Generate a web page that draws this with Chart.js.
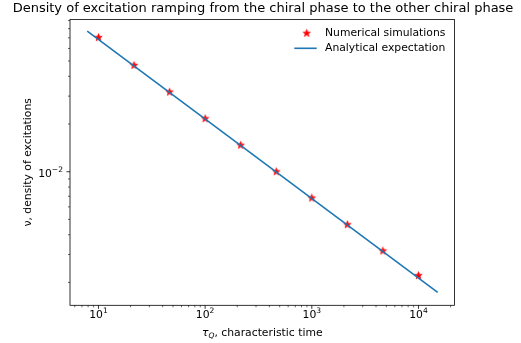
<!DOCTYPE html>
<html>
<head>
<meta charset="utf-8">
<script src="https://cdn.jsdelivr.net/npm/chart.js@4.4.0/dist/chart.umd.min.js"></script>
<style>
    body { margin: 0; background: #fff; }
    canvas { display: block; }
</style>
</head>
<body>
<canvas id="densityChart" width="521" height="343"></canvas>
<script>
// quench times used in the simulations and the measured density
const simTau = [10, 21.54, 46.42, 100, 215.4, 464.2, 1000, 2154, 4642, 10000];
const simDensity = [0.0703, 0.0469, 0.0318, 0.0216, 0.0147, 0.0100, 0.00682, 0.00463, 0.00316, 0.00221];

// analytical expectation, a straight line on log-log axes
const fitTau = [7.85, 15140];
const fitDensity = [0.0772, 0.001734];

// tick labels written as base and exponent (10^n)
const xTickValues = [10, 100, 1000, 10000];
const xTickExponents = ['1', '2', '3', '4'];
const yTickValues = [0.01];
const yTickExponents = ['\u22122'];

const seriesLabels = ['Numerical simulations', 'Analytical expectation'];
const chartTitle = 'Density of excitation ramping from the chiral phase to the other chiral phase';

const FONT = '"DejaVu Sans", sans-serif';
const FS = 10.8;

// red filled star marker like matplotlib '*'
function makeStar() {
    const c = document.createElement('canvas');
    c.width = 11;
    c.height = 11;
    const g = c.getContext('2d');
    g.beginPath();
    for (let i = 0; i < 10; i++) {
        const r = i % 2 === 0 ? 3.9 : 1.6;
        const a = -Math.PI / 2 + i * Math.PI / 5;
        const px = 5.5 + r * Math.cos(a);
        const py = 5.5 + r * Math.sin(a);
        if (i === 0) g.moveTo(px, py); else g.lineTo(px, py);
    }
    g.closePath();
    g.fillStyle = '#ff0000';
    g.fill();
    g.strokeStyle = '#ff0000';
    g.lineWidth = 0.7;
    g.stroke();
    return c;
}
const starImg = makeStar();

function minorTicks(min, max) {
    const out = [];
    for (let e = -4; e <= 5; e++) {
        for (let k = 2; k <= 9; k++) {
            const v = k * Math.pow(10, e);
            if (v >= min && v <= max) out.push(v);
        }
    }
    return out;
}

const X_MIN = 5.41, X_MAX = 21760;
const Y_MIN = 0.001435, Y_MAX = 0.0915;

// draws "10" with a raised exponent, anchored at x (center or right)
function drawPower(ctx, exp, x, baseline, align) {
    ctx.font = FS + 'px ' + FONT;
    const wb = ctx.measureText('10').width;
    ctx.font = (FS * 0.7) + 'px ' + FONT;
    const we = ctx.measureText(exp).width;
    const total = wb + we;
    let x0 = align === 'right' ? x - total : x - total / 2;
    ctx.font = FS + 'px ' + FONT;
    ctx.fillText('10', x0, baseline);
    ctx.font = (FS * 0.7) + 'px ' + FONT;
    ctx.fillText(exp, x0 + wb, baseline - 5);
}

const decorPlugin = {
    id: 'decor',
    afterDraw(chart) {
        const ctx = chart.ctx;
        const area = chart.chartArea;
        const xs = chart.scales.x;
        const ys = chart.scales.y;
        ctx.save();
        ctx.strokeStyle = '#000';

        // tick marks, major and minor, pointing out
        function xTick(v, len, w) {
            const px = xs.getPixelForValue(v);
            ctx.lineWidth = w;
            ctx.beginPath();
            ctx.moveTo(px, area.bottom);
            ctx.lineTo(px, area.bottom + len);
            ctx.stroke();
        }
        function yTick(v, len, w) {
            const py = ys.getPixelForValue(v);
            ctx.lineWidth = w;
            ctx.beginPath();
            ctx.moveTo(area.left - len, py);
            ctx.lineTo(area.left, py);
            ctx.stroke();
        }
        minorTicks(X_MIN, X_MAX).forEach(v => xTick(v, 2, 0.6));
        minorTicks(Y_MIN, Y_MAX).forEach(v => yTick(v, 2, 0.6));
        xTickValues.forEach(v => xTick(v, 3.5, 0.8));
        yTickValues.forEach(v => yTick(v, 3.5, 0.8));

        // axes frame
        ctx.lineWidth = 0.8;
        ctx.strokeRect(area.left, area.top, area.right - area.left, area.bottom - area.top);

        // tick labels
        ctx.fillStyle = '#000';
        ctx.textBaseline = 'alphabetic';
        xTickValues.forEach((v, i) => {
            drawPower(ctx, xTickExponents[i], xs.getPixelForValue(v), area.bottom + 13, 'center');
        });
        yTickValues.forEach((v, i) => {
            drawPower(ctx, yTickExponents[i], area.left - 7, ys.getPixelForValue(v) + 5.3, 'right');
        });

        // x axis label with subscript
        ctx.font = 'italic ' + FS + 'px ' + FONT;
        const w1 = ctx.measureText('τ').width;
        ctx.font = FS + 'px ' + FONT;
        const w3 = ctx.measureText(', characteristic time').width;
        ctx.font = 'italic ' + (FS * 0.7) + 'px ' + FONT;
        const w2 = ctx.measureText('Q').width;
        let lx = (area.left + area.right) / 2 - (w1 + w2 + w3) / 2;
        const ly = 335.5;
        ctx.font = 'italic ' + FS + 'px ' + FONT;
        ctx.fillText('τ', lx, ly);
        lx += w1;
        ctx.font = 'italic ' + (FS * 0.7) + 'px ' + FONT;
        ctx.fillText('Q', lx, ly + 2);
        lx += w2;
        ctx.font = FS + 'px ' + FONT;
        ctx.fillText(', characteristic time', lx, ly);

        // legend in the upper right corner
        const lgX = area.right - 160.2;
        ctx.textBaseline = 'middle';
        ctx.drawImage(starImg, lgX + 12.4 - starImg.width / 2, area.top + 13.9 - starImg.height / 2);
        ctx.fillText(seriesLabels[0], lgX + 30.7, area.top + 13.9);
        ctx.strokeStyle = '#1f77b4';
        ctx.lineWidth = 1.6;
        ctx.beginPath();
        ctx.moveTo(lgX, area.top + 28.9);
        ctx.lineTo(lgX + 22.4, area.top + 28.9);
        ctx.stroke();
        ctx.fillText(seriesLabels[1], lgX + 30.7, area.top + 28.9);
        ctx.restore();
    }
};

const ctx = document.getElementById('densityChart').getContext('2d');
const densityChart = new Chart(ctx, {
    type: 'scatter',
    data: {
        datasets: [
            {
                label: seriesLabels[0],
                data: simTau.map((t, i) => ({ x: t, y: simDensity[i] })),
                pointStyle: starImg,
                pointRadius: 4,
                order: 1
            },
            {
                label: seriesLabels[1],
                data: fitTau.map((t, i) => ({ x: t, y: fitDensity[i] })),
                showLine: true,
                borderColor: '#1f77b4',
                borderWidth: 1.6,
                pointRadius: 0,
                fill: false,
                order: 0
            }
        ]
    },
    options: {
        responsive: false,
        animation: false,
        devicePixelRatio: 1,
        layout: {
            padding: { left: 5, right: 0, top: 0, bottom: 0 }
        },
        plugins: {
            legend: { display: false },
            tooltip: { enabled: false },
            title: {
                display: true,
                text: chartTitle,
                color: '#000',
                font: { family: FONT, size: 13, weight: 'normal' },
                padding: { top: 0.7, bottom: 3.1 }
            }
        },
        scales: {
            x: {
                type: 'logarithmic',
                position: 'bottom',
                min: X_MIN,
                max: X_MAX,
                grid: { display: false, drawTicks: false },
                border: { display: false },
                ticks: { display: false },
                afterBuildTicks: function(scale) {
                    scale.ticks = xTickValues.map(v => ({ value: v }));
                },
                afterFit: function(scale) {
                    scale.height = 37.7;
                }
            },
            y: {
                type: 'logarithmic',
                position: 'left',
                min: Y_MIN,
                max: Y_MAX,
                grid: { display: false, drawTicks: false },
                border: { display: false },
                title: {
                    display: true,
                    text: 'ν, density of excitations',
                    color: '#000',
                    font: { family: FONT, size: FS },
                    padding: { top: 17, bottom: 0 }
                },
                ticks: { display: false },
                afterBuildTicks: function(scale) {
                    scale.ticks = yTickValues.map(v => ({ value: v }));
                },
                afterFit: function(scale) {
                    scale.width = 65;
                }
            },
            y2: {
                type: 'linear',
                position: 'right',
                display: true,
                grid: { display: false, drawTicks: false },
                border: { display: false },
                ticks: { display: false },
                afterFit: function(scale) {
                    scale.width = 66.5;
                }
            }
        }
    },
    plugins: [decorPlugin]
});
</script>
</body>
</html>
